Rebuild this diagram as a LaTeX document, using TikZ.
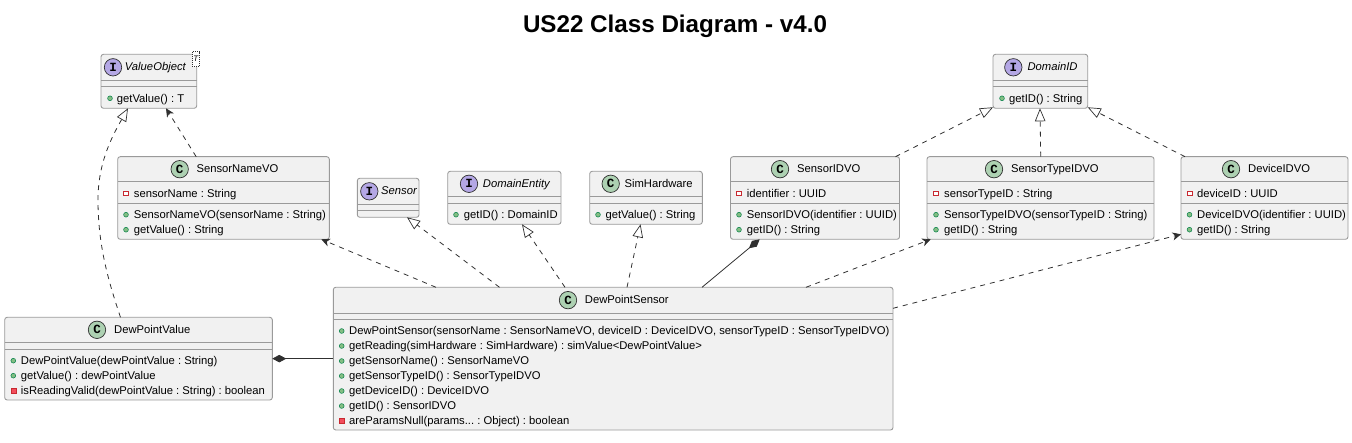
\documentclass[tikz,border=0pt]{standalone}
\usepackage{fontspec}
\setmainfont{Liberation Sans}
\newfontfamily\lettermono{Liberation Mono}[BoldFont={* Bold}]
\usetikzlibrary{arrows.meta}
\frenchspacing
\definecolor{boxfill}{HTML}{F1F1F1}
\definecolor{boxline}{HTML}{9A9A9A}
\definecolor{linkline}{HTML}{303030}
\definecolor{classfill}{HTML}{ADD1B2}
\definecolor{ifacefill}{HTML}{B4A7E5}
\definecolor{pubfill}{HTML}{84BE84}
\definecolor{publine}{HTML}{038048}
\definecolor{privline}{HTML}{C82930}
\definecolor{privfill}{HTML}{F24D5C}
\newcounter{umlitem}
\tikzset{
  x=1pt,y=-1pt,
  umlbox/.style={draw=boxline,fill=boxfill,line width=0.9pt,rounded corners=2.5pt,inner sep=0pt,outer sep=0pt},
  sepline/.style={draw=boxline,line width=0.9pt},
  badge/.style={circle,draw=linkline,line width=0.7pt,minimum size=17.4pt,inner sep=0pt,font=\lettermono\bfseries\fontsize{12.5}{13}\selectfont},
  classbadge/.style={badge,fill=classfill},
  ifacebadge/.style={badge,fill=ifacefill},
  umltext/.style={anchor=west,inner sep=0pt,text height=8.4pt,text depth=2.4pt,font=\fontsize{11.25}{13}\selectfont},
  pubmark/.style={circle,draw=publine,fill=pubfill,line width=0.5pt,minimum size=4.8pt,inner sep=0pt},
  privattr/.style={rectangle,draw=privline,fill=white,line width=0.7pt,minimum size=4.8pt,inner sep=0pt},
  privop/.style={rectangle,draw=privline,fill=privfill,line width=0.5pt,minimum size=5pt,inner sep=0pt},
  link/.style={draw=linkline,line width=0.8pt},
  depend/.style={link,dash pattern=on 5pt off 5pt,-{Stealth[length=8.5pt,width=8pt,inset=2.5pt,fill=linkline]}},
  realize/.style={link,dash pattern=on 5pt off 5pt,-{Triangle[length=13pt,width=10.5pt,fill=white,line width=0.7pt]}},
  compose/.style={link,{Diamond[length=14pt,width=7.5pt,fill=linkline]}-},
}
% name, L, T, R, B, sep1, sep2, badge style, badge x, title x, title, letter
\newcommand{\umlclass}[9]{%
  \node[umlbox,minimum width={#4-#2},minimum height={#5-#3}] (#1) at ({(#2+#4)/2},{(#3+#5)/2}) {};
  \draw[sepline] (#1.west |- 0,#6) -- (#1.east |- 0,#6);
  \draw[sepline] (#1.west |- 0,#7) -- (#1.east |- 0,#7);
  \umlhead{#1}{#3}{#6}{#8}{#9}}
\newcommand{\umlhead}[5]{\def\umlname{#1}\def\umlcy{#2}\def\umlsep{#3}\def\umlkind{#4}\def\umlbx{#5}\umlheadb}
\newcommand{\umlheadb}[3]{%
  \node[\umlkind badge] (\umlname-badge) at (\umlbx,{(\umlcy+\umlsep)/2}) {#3};
  \node[umltext] (\umlname-title) at (#1,{(\umlcy+\umlsep)/2+0.6}) {#2};}
\newcommand{\umlmember}[5]{%
  \stepcounter{umlitem}%
  \node[#1] (mark\theumlitem) at (#2,#4) {};
  \node[umltext] (text\theumlitem) at (#3,{#4+0.8}) {#5};}
\begin{document}
\begin{tikzpicture}
\useasboundingbox (0,0) rectangle (1352,443);
\node[font=\bfseries\fontsize{24.2}{28}\selectfont,inner sep=0pt,anchor=base] (title) at (675,32.3) {US22 Class Diagram - v4.0};

\umlclass{vo}{101}{54.3}{196.7}{108.3}{80.3}{86.3}{iface}{113}{124.7}{\textit{ValueObject}}{I}
\umlmember{pubmark}{110}{116.7}{98.3}{getValue() : T}
\node[draw=linkline,dash pattern=on 1pt off 1pt,line width=0.5pt,fill=white,minimum width=7.5pt,minimum height=15pt,inner sep=0pt,font=\itshape\fontsize{8}{9}\selectfont] (vo-param) at (195.7,59.2) {T};

\umlclass{did}{993}{54.3}{1087.7}{108.3}{80.3}{86.5}{iface}{1013.3}{1027.3}{\textit{DomainID}}{I}
\umlmember{pubmark}{1002}{1009}{98.3}{getID() : String}

\umlclass{name}{117.7}{156.7}{329.3}{239.3}{181.7}{203.3}{class}{179.7}{196.3}{SensorNameVO}{C}
\umlmember{privattr}{126}{133.7}{193.3}{sensorName : String}
\umlmember{pubmark}{126}{133.7}{214.7}{SensorNameVO(sensorName : String)}
\umlmember{pubmark}{126}{133.7}{229.7}{getValue() : String}

\umlclass{sensor}{357.3}{178.3}{419}{217.3}{204.3}{210.3}{iface}{369.3}{381}{\textit{Sensor}}{I}

\umlclass{entity}{447.7}{171.3}{561}{224.3}{196.3}{203.3}{iface}{469}{482.7}{\textit{DomainEntity}}{I}
\umlmember{pubmark}{456}{463.7}{214.7}{getID() : DomainID}

\umlclass{hw}{589.7}{171.3}{702.3}{224.3}{196.3}{203.3}{class}{610.7}{624.3}{SimHardware}{C}
\umlmember{pubmark}{598}{605.3}{214.7}{getValue() : String}

\umlclass{sid}{730.5}{156.7}{899.5}{239.3}{181.7}{203.3}{class}{780}{797}{SensorIDVO}{C}
\umlmember{privattr}{739}{746.7}{193.3}{identifier : UUID}
\umlmember{pubmark}{739}{746.7}{214.7}{SensorIDVO(identifier : UUID)}
\umlmember{pubmark}{739}{746.7}{229.7}{getID() : String}

\umlclass{tid}{927}{156.7}{1154}{239.3}{181.7}{203.3}{class}{994}{1011}{SensorTypeIDVO}{C}
\umlmember{privattr}{936}{944}{193.3}{sensorTypeID : String}
\umlmember{pubmark}{936}{944}{214.7}{SensorTypeIDVO(sensorTypeID : String)}
\umlmember{pubmark}{936}{944}{229.7}{getID() : String}

\umlclass{dev}{1181}{156.7}{1348}{239.3}{181.7}{203.3}{class}{1231}{1248}{DeviceIDVO}{C}
\umlmember{privattr}{1189.5}{1197}{193.3}{deviceID : UUID}
\umlmember{pubmark}{1189.5}{1197}{214.7}{DeviceIDVO(identifier : UUID)}
\umlmember{pubmark}{1189.5}{1197}{229.7}{getID() : String}

\umlclass{dpv}{4.7}{317.3}{272.3}{400}{342.3}{349}{class}{97}{114}{DewPointValue}{C}
\umlmember{pubmark}{13.3}{20.7}{360.7}{DewPointValue(dewPointValue : String)}
\umlmember{pubmark}{13.3}{20.7}{375.7}{getValue() : dewPointValue}
\umlmember{privop}{13.3}{20.7}{390.7}{isReadingValid(dewPointValue : String) : boolean}

\umlclass{dps}{333.3}{287.3}{893}{430}{313}{319.3}{class}{568}{584.7}{DewPointSensor}{C}
\umlmember{pubmark}{341.7}{349}{331}{DewPointSensor(sensorName : SensorNameVO, deviceID : DeviceIDVO, sensorTypeID : SensorTypeIDVO)}
\umlmember{pubmark}{341.7}{349}{346}{getReading(simHardware : SimHardware) : simValue<DewPointValue>}
\umlmember{pubmark}{341.7}{349}{361}{getSensorName() : SensorNameVO}
\umlmember{pubmark}{341.7}{349}{376}{getSensorTypeID() : SensorTypeIDVO}
\umlmember{pubmark}{341.7}{349}{391}{getDeviceID() : DeviceIDVO}
\umlmember{pubmark}{341.7}{349}{406}{getID() : SensorIDVO}
\umlmember{privop}{341.7}{349}{421}{areParamsNull(params... : Object) : boolean}

% connectors
\draw[realize] ([xshift=115.8pt]dpv.north west) .. controls (108,280) and (98,245) .. (98,200) .. controls (98,165) and (110,140) .. ([xshift=27pt]vo.south west);
\draw[depend] ([xshift=78.5pt]name.north west) -- ([xshift=65pt]vo.south west);
\draw[depend] ([xshift=102.7pt]dps.north west) -- ([xshift=-8pt]name.south east);
\draw[realize] ([xshift=166.2pt]dps.north west) -- ([xshift=-12pt]sensor.south east);
\draw[realize] ([xshift=231.7pt]dps.north west) -- ([xshift=74.3pt]entity.south west);
\draw[realize] ([xshift=293.7pt]dps.north west) -- ([xshift=50.8pt]hw.south west);
\draw[compose] ([xshift=29.2pt]sid.south west) -- ([xshift=368.7pt]dps.north west);
\draw[depend] ([xshift=472.7pt]dps.north west) -- ([xshift=3.7pt]tid.south west);
\draw[depend] ([yshift=-21pt]dps.north east) -- ([yshift=5pt]dev.south west);
\draw[compose] (dpv.east |- dps.west) -- (dps.west);
\draw[realize] ([xshift=-4pt]sid.north east) -- ([yshift=1pt]did.south west);
\draw[realize] ([xshift=113.7pt]tid.north west) -- ([xshift=47pt]did.south west);
\draw[realize] ([xshift=4pt]dev.north west) -- ([yshift=1pt]did.south east);
\end{tikzpicture}
\end{document}
